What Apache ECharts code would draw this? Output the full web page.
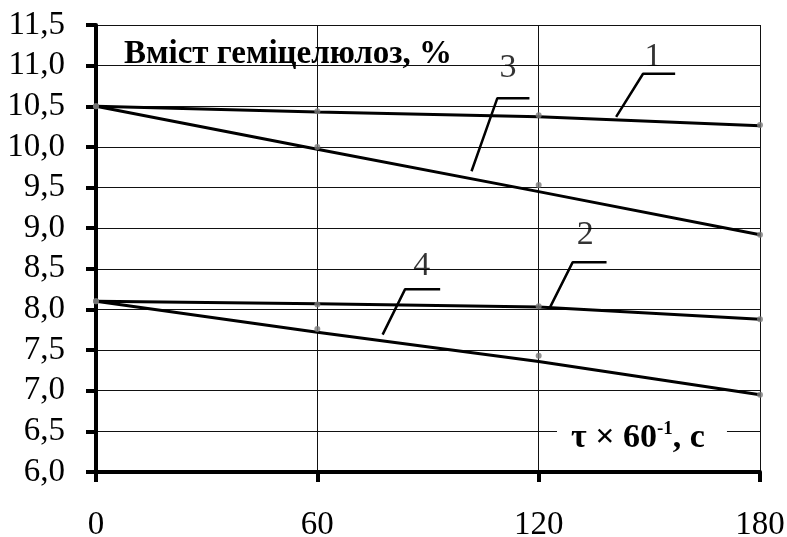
<!DOCTYPE html>
<html><head><meta charset="utf-8">
<script src="https://cdn.jsdelivr.net/npm/echarts@6/dist/echarts.min.js"></script>
<style>html,body{margin:0;padding:0;background:#fff}#c{width:787px;height:537px}</style>
</head><body><div id="c"></div>
<script>
// Categories (time, τ×60^-1, s)
const xTicks = [0, 60, 120, 180];
// Measured points (markers)
const s1Points = [10.5, 10.44, 10.39, 10.27];
const s2Points = [8.1, 8.06, 8.04, 7.88];
const s3Points = [10.5, 10.0, 9.53, 8.92];
const s4Points = [8.1, 7.76, 7.43, 6.95];
// Trend-line values at the same x positions
const s1Line = [10.5, 10.43, 10.37, 10.26];
const s2Line = [8.1, 8.07, 8.03, 7.88];
const s3Line = [10.5, 9.97, 9.45, 8.92];
const s4Line = [8.1, 7.72, 7.36, 6.95];
// Leader lines for curve numbers (data coordinates)
const leader1 = [[141.0, 10.37], [148.3, 10.90], [157.0, 10.90]];
const leader3 = [[101.8, 9.70], [108.8, 10.60], [117.5, 10.60]];
const leader2 = [[122.9, 8.01], [129.2, 8.58], [138.4, 8.58]];
const leader4 = [[77.7, 7.69], [83.8, 8.25], [93.3, 8.25]];
const curveLabels = [["1", 151.0, 11.11], ["3", 111.7, 10.97], ["2", 132.6, 8.91], ["4", 88.3, 8.53]];
const yMin = 6.0, yMax = 11.5, yStep = 0.5;
const titleText = "Вміст геміцелюлоз, %";

const FONT = "Liberation Serif";
const pair = (arr) => xTicks.map((x, i) => [x, arr[i]]);
const lineSeries = (arr) => ({type: 'line', data: pair(arr), showSymbol: false, lineStyle: {color: '#000', width: 3}, z: 3, silent: true});
const pointSeries = (arr) => ({type: 'scatter', data: pair(arr), symbolSize: 6, itemStyle: {color: '#7a7a7a'}, z: 4});
const leaderSeries = (arr) => ({type: 'line', data: arr, showSymbol: false, lineStyle: {color: '#000', width: 2.5}, z: 5});

const chart = echarts.init(document.getElementById('c'));
chart.setOption({
  animation: false,
  backgroundColor: '#fff',
  grid: {left: 96, right: 27, top: 25, bottom: 65, containLabel: false, outerBoundsMode: 'none'},
  xAxis: {
    type: 'value', min: 0, max: 180, interval: 60,
    axisLine: {show: true, onZero: false, lineStyle: {color: '#000', width: 4}},
    axisTick: {show: true, inside: false, length: 10, lineStyle: {color: '#000', width: 4}},
    axisLabel: {color: '#000', fontFamily: FONT, fontSize: 33, margin: 37, hideOverlap: false},
    splitLine: {show: true, lineStyle: {color: '#111', width: 1}}
  },
  yAxis: {
    type: 'value', min: yMin, max: yMax, interval: yStep,
    axisLine: {show: true, onZero: false, lineStyle: {color: '#000', width: 4}},
    axisTick: {show: true, inside: false, length: 10, lineStyle: {color: '#000', width: 4}},
    axisLabel: {color: '#000', fontFamily: FONT, fontSize: 33, margin: 31,
      formatter: v => v.toFixed(1).replace('.', ',')},
    splitLine: {show: true, lineStyle: {color: '#111', width: 1}}
  },
  graphic: [
    {type: 'text', left: 124, top: 38, z: 10,
      style: {text: titleText, font: 'bold 33px "' + FONT + '"', fill: '#000'}},
    {type: 'text', left: 557, top: 418, z: 10,
      style: {text: '{a|τ × 60}{s|-1}{a|, с}', backgroundColor: '#fff', padding: [2, 22, 2, 14],
        rich: {a: {font: 'bold 34px "' + FONT + '"', fill: '#000', verticalAlign: 'bottom'},
               s: {font: 'bold 19px "' + FONT + '"', fill: '#000', verticalAlign: 'top', padding: [0, 0, 16, 0]}}}}
  ],
  series: [
    lineSeries(s1Line), lineSeries(s2Line), lineSeries(s3Line), lineSeries(s4Line),
    pointSeries(s1Points), pointSeries(s2Points), pointSeries(s3Points), pointSeries(s4Points),
    leaderSeries(leader1), leaderSeries(leader2), leaderSeries(leader3), leaderSeries(leader4),
    {type: 'scatter', symbolSize: 0, z: 6,
      data: curveLabels.map(d => ({value: [d[1], d[2]], name: d[0]})),
      label: {show: true, position: 'inside', formatter: p => p.name, color: '#000', fontFamily: FONT, fontSize: 34}}
  ]
});
</script></body></html>
